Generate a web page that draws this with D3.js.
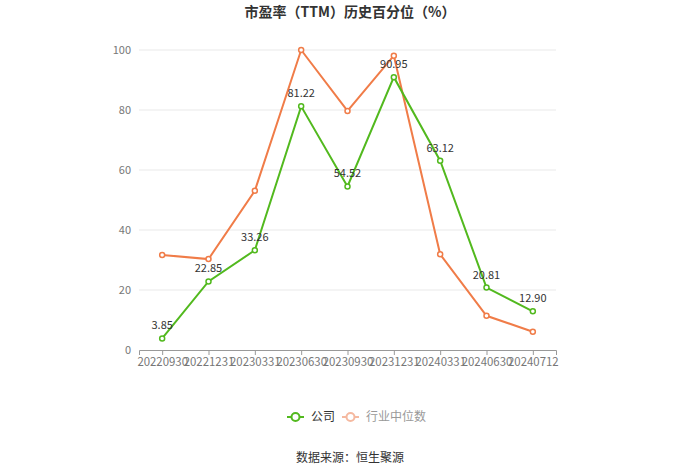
<!DOCTYPE html>
<html><head><meta charset="utf-8">
<script src="https://cdn.jsdelivr.net/npm/d3@7"></script>
<style>body{margin:0;background:#fff;}svg{display:block;font-family:"Noto Sans CJK SC","Noto Sans",sans-serif;}</style>
</head><body>
<svg id="c" width="700" height="474"></svg>
<script>
const categories = ["20220930","20221231","20230331","20230630","20230930","20231231","20240331","20240630","20240712"];
const companyValues = [3.85, 22.85, 33.26, 81.22, 54.52, 90.95, 63.12, 20.81, 12.90];
const industryValues = [31.7, 30.3, 53.1, 100, 79.7, 98.1, 31.9, 11.4, 6.1];
const yTicks = [0, 20, 40, 60, 80, 100];
const seriesNames = ["公司", "行业中位数"];
const colors = {company: "#52b91e", industry: "#f07c48"};

const svg = d3.select("#c");
const x = d3.scalePoint().domain(categories).range([139, 556]).padding(0.5);
const y = d3.scaleLinear().domain([0, 100]).range([350, 50]);

svg.append("text").attr("x", 350).attr("y", 17).attr("text-anchor", "middle")
  .attr("font-size", 14).attr("font-weight", "bold").attr("fill", "#333")
  .text("市盈率（TTM）历史百分位（%）");

svg.append("g").selectAll("line").data(yTicks.filter(d => d > 0)).join("line")
  .attr("x1", 139).attr("x2", 556).attr("y1", d => y(d)).attr("y2", d => y(d))
  .attr("stroke", "#e9e9e9").attr("stroke-width", 1);

const ya = svg.append("g").attr("transform", "translate(139,0)")
  .call(d3.axisLeft(y).tickValues(yTicks).tickSize(0).tickPadding(8));
ya.select(".domain").remove();
ya.selectAll("text").attr("font-size", 11).attr("fill", "#777").attr("font-family", "'Noto Sans CJK SC','Noto Sans',sans-serif");

const xa = svg.append("g").attr("transform", "translate(0,350)")
  .call(d3.axisBottom(x).tickSizeOuter(0).tickSize(5).tickPadding(3));
xa.select(".domain").attr("stroke", "#999");
xa.selectAll(".tick line").attr("stroke", "#999");
xa.selectAll("text").attr("font-size", 11.4).attr("fill", "#777").attr("font-family", "'Noto Sans CJK SC','Noto Sans',sans-serif");

const line = d3.line().x((d, i) => x(categories[i])).y(d => y(d));

function drawSeries(vals, color, labels) {
  svg.append("path").datum(vals).attr("d", line).attr("fill", "none")
    .attr("stroke", color).attr("stroke-width", 2);
  svg.append("g").selectAll("circle").data(vals).join("circle")
    .attr("cx", (d, i) => x(categories[i])).attr("cy", d => y(d)).attr("r", 2.5)
    .attr("fill", "#fff").attr("stroke", color).attr("stroke-width", 1.5);
  if (labels) {
    svg.append("g").selectAll("text").data(vals).join("text")
      .attr("x", (d, i) => x(categories[i])).attr("y", d => y(d) - 9)
      .attr("text-anchor", "middle").attr("font-size", 11).attr("fill", "#333")
      .text(d => d.toFixed(2));
  }
}
drawSeries(industryValues, colors.industry, false);
drawSeries(companyValues, colors.company, true);

const lg = svg.append("g");
function legendItem(x0, color, textColor, name) {
  lg.append("line").attr("x1", x0).attr("x2", x0 + 17).attr("y1", 417).attr("y2", 417)
    .attr("stroke", color).attr("stroke-width", 2);
  lg.append("circle").attr("cx", x0 + 8.5).attr("cy", 417).attr("r", 4)
    .attr("fill", "#fff").attr("stroke", color).attr("stroke-width", 2);
  lg.append("text").attr("x", x0 + 24).attr("y", 421).attr("font-size", 12)
    .attr("fill", textColor).text(name);
}
legendItem(287, colors.company, "#333", seriesNames[0]);
legendItem(342, "#f5b9a0", "#999", seriesNames[1]);

svg.append("text").attr("x", 350).attr("y", 462).attr("text-anchor", "middle")
  .attr("font-size", 12).attr("fill", "#333").text("数据来源：恒生聚源");
</script>
</body></html>
